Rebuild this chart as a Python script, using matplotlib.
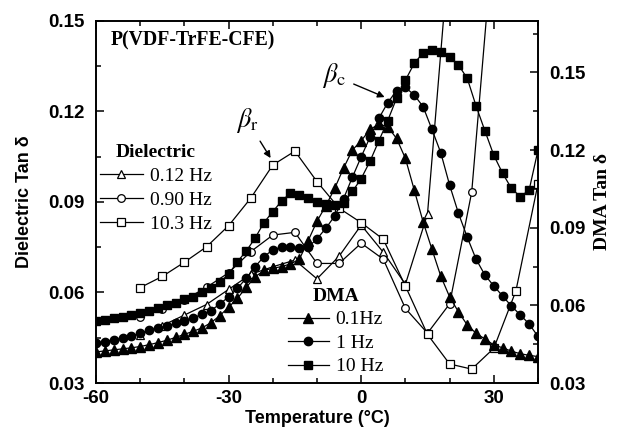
import numpy as np
import matplotlib
matplotlib.use("Agg")
import matplotlib.pyplot as plt
from matplotlib.ticker import MultipleLocator, FormatStrFormatter

plt.rcParams['mathtext.fontset'] = 'stix'
plt.rcParams['axes.unicode_minus'] = False

# dielectric tan delta (left axis), open symbols, 5 C steps
t_012 = [-50, -45, -40, -35, -30, -25, -20, -15, -10, -5, 0, 5, 10, 15, 20]
d_012 = [0.0460, 0.0490, 0.0525, 0.0560, 0.0610, 0.0660, 0.0685, 0.0707,
         0.0645, 0.0720, 0.0823, 0.0733, 0.0627, 0.0860, 0.1750]
t_090 = [-50, -45, -40, -35, -30, -25, -20, -15, -10, -5, 0, 5, 10, 15, 20, 25, 30]
d_090 = [0.0518, 0.0545, 0.0575, 0.0617, 0.0665, 0.0735, 0.0790, 0.0799,
         0.0696, 0.0696, 0.0763, 0.0710, 0.0547, 0.0465, 0.0562, 0.0932, 0.1800]
t_103 = [-50, -45, -40, -35, -30, -25, -20, -15, -10, -5, 0, 5, 10, 15, 20,
         25, 30, 35, 40]
d_103 = [0.0616, 0.0653, 0.0700, 0.0751, 0.0821, 0.0912, 0.1022, 0.1068,
         0.0967, 0.0879, 0.0831, 0.0776, 0.0621, 0.0461, 0.0363, 0.0346,
         0.0415, 0.0605, 0.0960]

# DMA tan delta (right axis), filled symbols, 2 C steps
t_dma = list(range(-60, 42, 2))
dma_01 = [0.0420, 0.0424, 0.0428, 0.0432, 0.0436, 0.0441, 0.0448, 0.0456,
          0.0465, 0.0476, 0.0488, 0.0500, 0.0513, 0.0533, 0.0560, 0.0593,
          0.0627, 0.0670, 0.0710, 0.0735, 0.0743, 0.0750, 0.0760, 0.0778,
          0.0850, 0.0925, 0.0985, 0.1052, 0.1130, 0.1200, 0.1236, 0.1280,
          0.1300, 0.1290, 0.1245, 0.1168, 0.1046, 0.0923, 0.0817, 0.0713,
          0.0633, 0.0575, 0.0524, 0.0492, 0.0470, 0.0447, 0.0436, 0.0423,
          0.0413, 0.0407, 0.0402]
dma_1 = [0.0453, 0.0460, 0.0467, 0.0473, 0.0480, 0.0493, 0.0503, 0.0512,
         0.0520, 0.0530, 0.0540, 0.0552, 0.0565, 0.0580, 0.0605, 0.0633,
         0.0666, 0.0705, 0.0750, 0.0788, 0.0815, 0.0825, 0.0825, 0.0820,
         0.0825, 0.0857, 0.0898, 0.0945, 0.1012, 0.1095, 0.1174, 0.1250,
         0.1323, 0.1383, 0.1430, 0.1442, 0.1413, 0.1368, 0.1280, 0.1190,
         0.1065, 0.0956, 0.0863, 0.0778, 0.0717, 0.0675, 0.0636, 0.0597,
         0.0563, 0.0528, 0.0480]
dma_10 = [0.0540, 0.0545, 0.0550, 0.0555, 0.0561, 0.0570, 0.0580, 0.0590,
          0.0600, 0.0611, 0.0623, 0.0634, 0.0650, 0.0667, 0.0690, 0.0720,
          0.0769, 0.0810, 0.0860, 0.0920, 0.0962, 0.1004, 0.1033, 0.1028,
          0.1015, 0.0998, 0.0990, 0.0988, 0.0995, 0.1040, 0.1090, 0.1157,
          0.1236, 0.1314, 0.1400, 0.1470, 0.1535, 0.1576, 0.1587, 0.1580,
          0.1561, 0.1529, 0.1477, 0.1370, 0.1274, 0.1180, 0.1110, 0.1052,
          0.1020, 0.1046, 0.1200]

serif = 'Liberation Serif'
sans = 'Liberation Sans'

fig = plt.figure(figsize=(6.17, 4.32), dpi=100)
ax = fig.add_axes([96/617, 49/432, 442/617, 362.3/432])
ax2 = ax.twinx()

lw = 0.9
l1, = ax.plot(t_012, d_012, '-^', color='k', lw=lw, ms=6, mfc='white', mec='k', mew=0.9)
l2, = ax.plot(t_090, d_090, '-o', color='k', lw=lw, ms=5.5, mfc='white', mec='k', mew=0.9)
l3, = ax.plot(t_103, d_103, '-s', color='k', lw=lw, ms=5.3, mfc='white', mec='k', mew=0.9)

m1, = ax2.plot(t_dma, dma_01, '-^', color='k', lw=lw, ms=6.5)
m2, = ax2.plot(t_dma, dma_1, '-o', color='k', lw=lw, ms=6)
m3, = ax2.plot(t_dma, dma_10, '-s', color='k', lw=lw, ms=5.2)

ax.set_xlim(-60, 40)
ax.set_ylim(0.03, 0.15)
ax2.set_ylim(0.03, 0.17)

ax.xaxis.set_major_locator(MultipleLocator(30))
ax.xaxis.set_minor_locator(MultipleLocator(10))
ax.yaxis.set_major_locator(MultipleLocator(0.03))
ax.yaxis.set_minor_locator(MultipleLocator(0.015))
ax.yaxis.set_major_formatter(FormatStrFormatter('%.2f'))
ax2.yaxis.set_major_locator(MultipleLocator(0.03))
ax2.yaxis.set_minor_locator(MultipleLocator(0.015))
ax2.yaxis.set_major_formatter(FormatStrFormatter('%.2f'))

ax.tick_params(which='both', direction='in', top=True, right=False, width=1.1)
ax.tick_params(which='major', length=6, labelsize=13.5)
ax.tick_params(axis='y', pad=8)
ax.tick_params(axis='x', pad=5)
ax.tick_params(which='minor', length=3.5)
ax2.tick_params(which='both', direction='in', width=1.1)
ax2.tick_params(which='major', length=6, labelsize=13.5, pad=8)
ax2.tick_params(which='minor', length=3.5)
for a in (ax, ax2):
    for lab in a.get_xticklabels() + a.get_yticklabels():
        lab.set_fontfamily(sans)
        lab.set_fontweight('bold')
    for sp in a.spines.values():
        sp.set_linewidth(1.2)

ax.set_xlabel('Temperature (°C)', fontfamily=sans, fontweight='bold', fontsize=13, labelpad=2)
ax.set_ylabel('Dielectric Tan δ', fontfamily=sans, fontweight='bold', fontsize=13, labelpad=11)
ax2.set_ylabel('DMA Tan δ', fontfamily=serif, fontweight='bold', fontsize=14, labelpad=6)

ax.text(0.033, 0.945, 'P(VDF-TrFE-CFE)', transform=ax.transAxes, ha='left', va='center',
        fontfamily=serif, fontweight='bold', fontsize=14.2)

ax.annotate(r'$\beta_{\mathrm{r}}$', xy=(-20.5, 0.1045), xytext=(-25.8, 0.1170),
            fontsize=19, ha='center', va='center',
            arrowprops=dict(arrowstyle='-|>', color='k', lw=1, mutation_scale=10,
                            shrinkA=3, shrinkB=0))
ax.annotate(r'$\beta_{\mathrm{c}}$', xy=(5.3, 0.1247), xytext=(-6.2, 0.1318),
            fontsize=19, ha='center', va='center',
            arrowprops=dict(arrowstyle='-|>', color='k', lw=1, mutation_scale=10,
                            shrinkA=4, shrinkB=0))

leg_font = {'family': serif, 'size': 14}
title_font = {'family': serif, 'size': 14, 'weight': 'bold'}
leg1 = ax.legend([l1, l2, l3], ['0.12 Hz', '0.90 Hz', '10.3 Hz'], title='Dielectric',
                 prop=leg_font, title_fontproperties=title_font, frameon=False,
                 loc='upper left', bbox_to_anchor=(95/617, (432-139)/432),
                 bbox_transform=fig.transFigure, borderpad=0.26, borderaxespad=0,
                 handlelength=2.2, handletextpad=0.35, labelspacing=0.32)
ax.add_artist(leg1)
leg2 = ax.legend([m1, m2, m3], ['0.1Hz', '1 Hz', '10 Hz'], title='DMA',
                 prop=leg_font, title_fontproperties=title_font, frameon=False,
                 loc='upper left', bbox_to_anchor=(283/617, (432-283)/432),
                 bbox_transform=fig.transFigure, borderpad=0.26, borderaxespad=0,
                 handlelength=2.1, handletextpad=0.35, labelspacing=0.3)

fig.savefig('out.png', dpi=100)
